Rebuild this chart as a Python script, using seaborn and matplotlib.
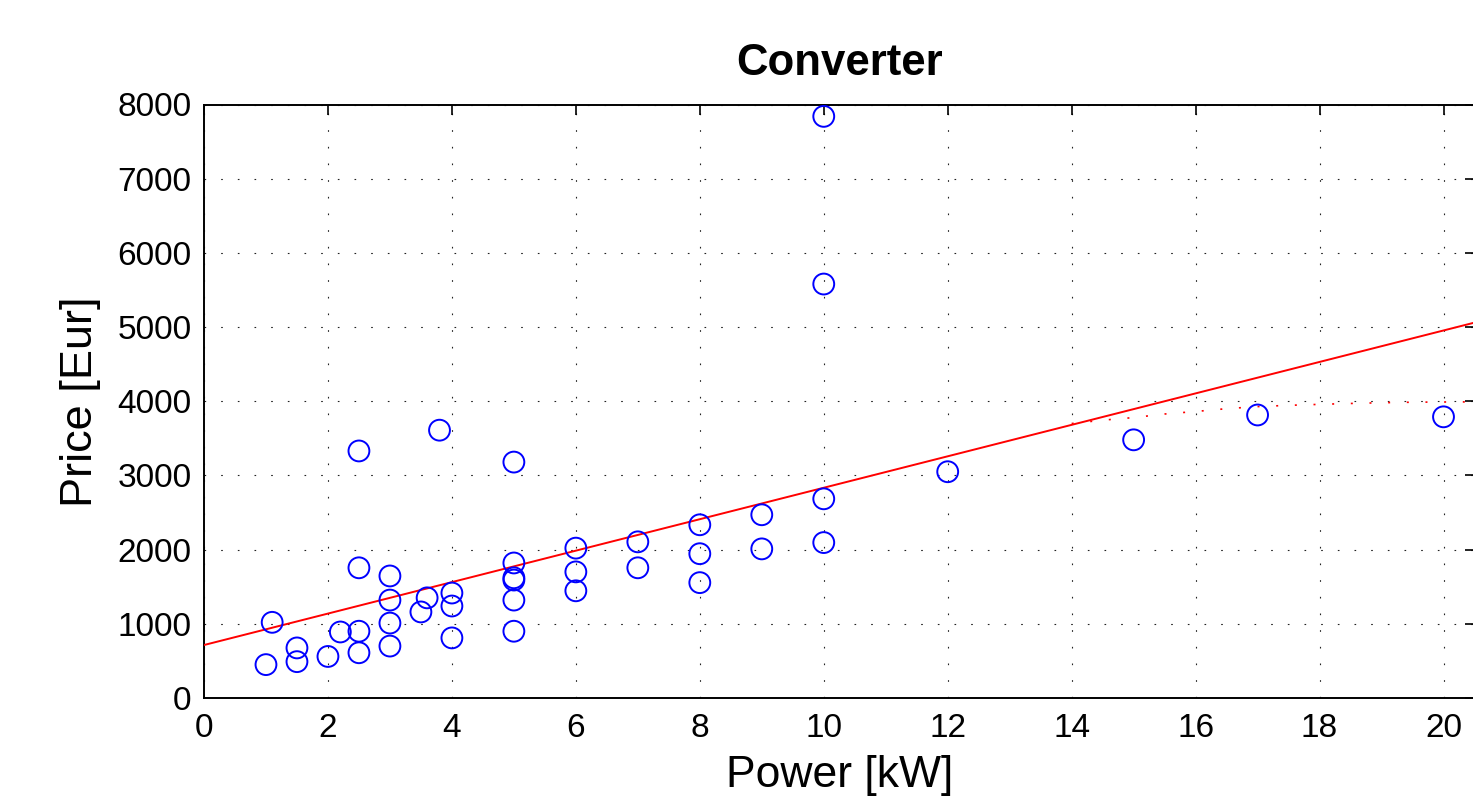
import matplotlib
matplotlib.use("Agg")
import matplotlib.pyplot as plt
import seaborn as sns
import numpy as np
import pandas as pd

# ---- data ----
power = [1, 1.1, 1.5, 1.5, 2, 2.2, 2.5, 2.5, 2.5, 2.5, 3, 3, 3, 3, 3.5, 3.6, 3.8,
         4, 4, 4, 5, 5, 5, 5, 5, 5, 6, 6, 6, 7, 7, 8, 8, 8, 9, 9, 10, 10, 10, 10,
         12, 15, 17, 20]
price = [450, 1020, 675, 490, 560, 890, 3330, 1755, 900, 610, 1645, 1320, 1010, 700,
         1160, 1350, 3610, 1415, 1240, 810, 3180, 1820, 1620, 1590, 1320, 900,
         2020, 1700, 1445, 2105, 1755, 2335, 1945, 1555, 2470, 2010, 7840, 5580,
         2685, 2095, 3050, 3480, 3815, 3790]

fit_intercept = 714
fit_slope = 212
fit_x = [0, 20.5]

sat_x = [14.0, 14.5, 15.0, 15.5, 16.0, 16.5, 17.0, 17.5, 18.0, 18.5, 19.0, 19.5, 20.0, 20.5]
sat_y = [3700, 3745, 3780, 3828, 3862, 3900, 3928, 3945, 3958, 3970, 3980, 3987, 3990, 3992]

x_ticks = list(range(0, 21, 2))
y_ticks = list(range(0, 8001, 1000))

title = "Converter"
xlabel = "Power [kW]"
ylabel = "Price [Eur]"

# ---- style ----
sns.set_style("white")
plt.rcParams['font.family'] = ['Liberation Sans', 'DejaVu Sans']
plt.rcParams['text.color'] = 'black'
plt.rcParams['axes.labelcolor'] = 'black'

W, H = 1473, 800
fig = plt.figure(figsize=(W / 100, H / 100), dpi=100)
ax = fig.add_axes([204 / W, (800 - 698) / H, 1270.5 / W, (698 - 104.5) / H])

df = pd.DataFrame({"power": power, "price": price})
fit_df = pd.DataFrame({"x": fit_x,
                       "y": [fit_intercept + fit_slope * v for v in fit_x]})
sat_df = pd.DataFrame({"x": sat_x, "y": sat_y})

grid_style = (0, (1.5, 13.5))
ax.set_xlim(0, 20.5)
ax.set_ylim(0, 8000)
ax.set_xticks(x_ticks)
ax.set_yticks(y_ticks)
ax.grid(True, color="#222222", linewidth=0.8, linestyle=grid_style)
ax.set_axisbelow(True)

sns.lineplot(data=sat_df, x="x", y="y", ax=ax, color="red", linewidth=1.2,
             linestyle=(0, (1.2, 10)), zorder=3)
sns.lineplot(data=fit_df, x="x", y="y", ax=ax, color="red", linewidth=1.4, zorder=4)
sns.scatterplot(data=df, x="power", y="price", ax=ax, marker="o", s=225,
                facecolors="none", edgecolor="blue", linewidth=1.4, zorder=5)

for sp in ax.spines.values():
    sp.set_visible(True)
    sp.set_color("black")
    sp.set_linewidth(1.4)

ax.tick_params(axis="both", which="major", direction="in", length=7, width=1.2,
               top=True, right=True, labelsize=24, color="black", labelcolor="black")
ax.tick_params(axis="x", pad=11)
ax.tick_params(axis="y", pad=9)

ax.set_title(title, fontsize=31.5, fontweight="bold", pad=21, color="black")
ax.set_xlabel(xlabel, fontsize=32, labelpad=8, color="black")
ax.set_ylabel(ylabel, fontsize=32.5, labelpad=12, color="black")

fig.savefig("out.png", dpi=100)
